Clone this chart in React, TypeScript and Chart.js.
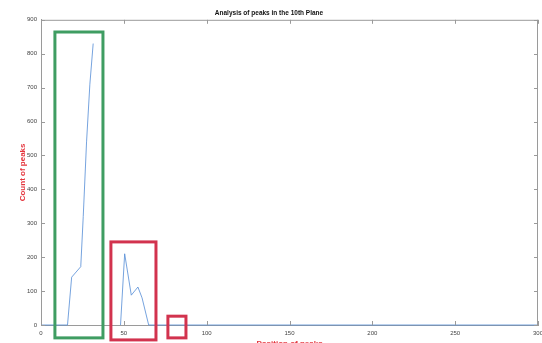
import { useEffect, useRef } from 'react';
import { Chart, registerables } from 'chart.js';

Chart.register(...registerables);

// Peak counts along the plane (x = position, y = number of peaks); null breaks the trace
const positions = [0, 16, 18.5, 24, 25.5, 27.5, 29.5, 31.5, 32, 48, 50.5, 54.5, 58.5, 61, 65, 300];
const peakCounts = [0, 0, 141, 172, 320, 540, 710, 830, null, 0, 210, 88, 112, 80, 0, 0];

// Highlighted regions, in data units
const regionX = [[8.4, 37.4], [42.2, 69.4], [76.6, 87.5]];
const regionY = [[-38, 864], [-44, 245], [-38, 26]];

const X_MAX = 300;
const Y_MAX = 900;
const TICK_STEP_X = 50;
const TICK_STEP_Y = 100;

const TITLE = 'Analysis of peaks in the 10th Plane';
const X_TITLE = 'Position of peaks';
const Y_TITLE = 'Count of peaks';

const AXIS_COLOR = '#9a9a9a';
const TICK_COLOR = '#444444';
const LABEL_RED = '#e4343c';
const LINE_COLOR = 'rgba(84, 140, 214, 0.8)';
const REGION_COLORS = ['#3f9d62', '#d2334e', '#d2334e'];

const framePlugin = {
  id: 'frame',
  afterDatasetsDraw(chart: any) {
    const { ctx, chartArea: a, scales } = chart;
    const x = scales.x;
    const y = scales.y;
    ctx.save();
    ctx.strokeStyle = AXIS_COLOR;
    ctx.lineWidth = 1;
    ctx.beginPath();
    ctx.moveTo(a.left, a.top + 0.5);
    ctx.lineTo(a.right, a.top + 0.5);
    ctx.moveTo(a.right - 0.5, a.top);
    ctx.lineTo(a.right - 0.5, a.bottom);
    x.ticks.forEach((t: any) => {
      const px = Math.round(x.getPixelForValue(t.value)) + 0.5;
      ctx.moveTo(px, a.bottom);
      ctx.lineTo(px, a.bottom - 4);
      ctx.moveTo(px, a.top);
      ctx.lineTo(px, a.top + 4);
    });
    y.ticks.forEach((t: any) => {
      const py = Math.round(y.getPixelForValue(t.value)) + 0.5;
      ctx.moveTo(a.left, py);
      ctx.lineTo(a.left + 4, py);
      ctx.moveTo(a.right, py);
      ctx.lineTo(a.right - 4, py);
    });
    ctx.stroke();

    ctx.lineWidth = 3;
    regionX.forEach((rx, i) => {
      const ry = regionY[i];
      const l = x.getPixelForValue(rx[0]);
      const r = x.getPixelForValue(rx[1]);
      const t = y.getPixelForValue(ry[1]);
      const b = y.getPixelForValue(ry[0]);
      ctx.strokeStyle = REGION_COLORS[i];
      ctx.strokeRect(l, t, r - l, b - t);
    });
    ctx.restore();
  },
};

export default function App() {
  const canvasRef = useRef<HTMLCanvasElement | null>(null);

  useEffect(() => {
    document.body.style.margin = '0';
    document.body.style.overflow = 'hidden';
    document.documentElement.style.overflow = 'hidden';
    const canvas = canvasRef.current;
    if (!canvas) return;

    const data = positions.map((p, i) => ({ x: p, y: peakCounts[i] }));

    const chart = new Chart(canvas, {
      type: 'line',
      data: {
        datasets: [
          {
            data,
            borderColor: LINE_COLOR,
            borderWidth: 1,
            pointRadius: 0,
            tension: 0,
            spanGaps: false,
            clip: 3,
          },
        ],
      },
      options: {
        animation: false,
        responsive: false,
        maintainAspectRatio: false,
        events: [],
        layout: { padding: { left: 0, right: 4, top: 0, bottom: 0 } },
        plugins: {
          legend: { display: false },
          tooltip: { enabled: false },
          title: {
            display: true,
            text: TITLE,
            color: '#111111',
            font: { family: 'Liberation Sans', size: 6.5, weight: 'bold' },
            padding: { top: 9, bottom: 3 },
          },
        },
        scales: {
          x: {
            type: 'linear',
            min: 0,
            max: X_MAX,
            border: { display: true, color: AXIS_COLOR },
            grid: { display: false, drawTicks: false },
            ticks: {
              stepSize: TICK_STEP_X,
              color: TICK_COLOR,
              padding: 5,
              maxRotation: 0,
              font: { family: 'Liberation Sans', size: 6 },
            },
            title: {
              display: true,
              text: X_TITLE,
              color: LABEL_RED,
              font: { family: 'Liberation Sans', size: 8, weight: 'bold' },
              padding: { top: 0, bottom: 3 },
            },
            afterFit(scale: any) {
              scale.height = 27;
              scale.paddingLeft = 0;
              scale.paddingRight = 0;
            },
          },
          y: {
            type: 'linear',
            min: 0,
            max: Y_MAX,
            border: { display: true, color: AXIS_COLOR },
            grid: { display: false, drawTicks: false },
            ticks: {
              stepSize: TICK_STEP_Y,
              color: TICK_COLOR,
              padding: 4,
              font: { family: 'Liberation Sans', size: 6 },
            },
            title: {
              display: true,
              text: Y_TITLE,
              color: LABEL_RED,
              font: { family: 'Liberation Sans', size: 8, weight: 'bold' },
              padding: { top: 18, bottom: 0 },
            },
            afterFit(scale: any) {
              scale.width = 41;
              scale.paddingTop = 0;
              scale.paddingBottom = 0;
            },
          },
        },
      },
      plugins: [framePlugin],
    });

    return () => chart.destroy();
  }, []);

  return (
    <div style={{ position: 'fixed', left: 0, top: 0, width: 542, height: 352 }}>
      <canvas ref={canvasRef} width={542} height={352} style={{ display: 'block' }} />
    </div>
  );
}
